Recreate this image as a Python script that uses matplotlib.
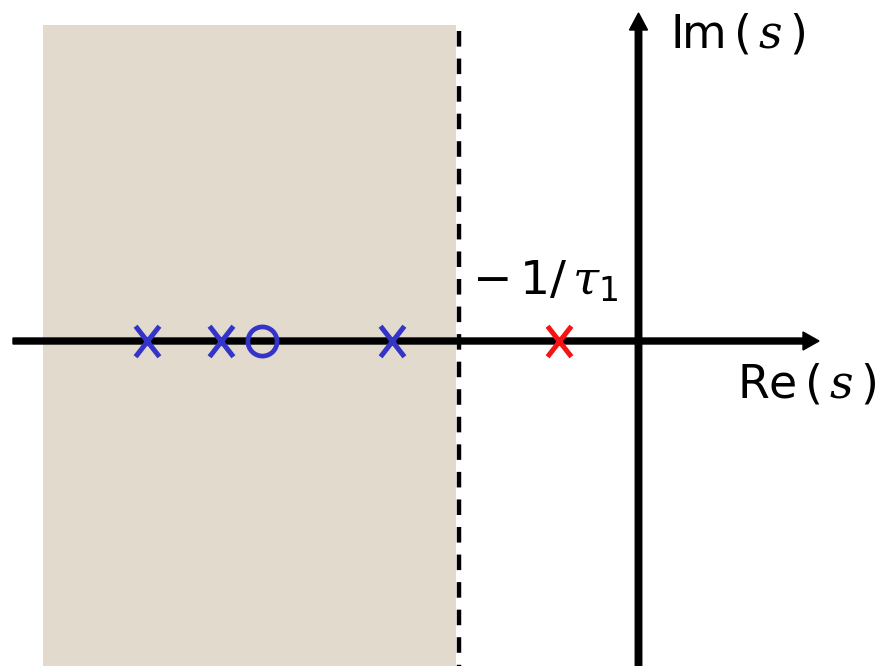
import numpy as np
import matplotlib.pyplot as plt
from matplotlib.path import Path
from matplotlib.patches import Rectangle

# ==========================
# Data (s-plane, real parts)
# ==========================

blue_poles = [-4.915, -4.175, -2.465]
zeros = [-3.765]
red_poles = [-0.795]
boundary = -1.80          # -1/tau_1 line
shade_left = -5.955

label_im = r"Im$\,(\,s\,)$"
label_re = r"Re$\,(\,s\,)$"
label_tau = r"$-\,1/\,\tau_1$"

# ==========================
# Style
# ==========================

plt.rcParams["font.family"] = ["DejaVu Sans"]
plt.rcParams["mathtext.fontset"] = "custom"
plt.rcParams["mathtext.rm"] = "DejaVu Sans"
plt.rcParams["mathtext.it"] = "DejaVu Serif:italic"

blue = "#3434C8"
red = "#F41414"
sand = "#E2DACD"

# tall cross marker
cross = Path(
    [(-0.39, -0.5), (0.39, 0.5), (-0.39, 0.5), (0.39, -0.5)],
    [Path.MOVETO, Path.LINETO, Path.MOVETO, Path.LINETO]
)

fig = plt.figure(figsize=(8.79, 6.66), dpi=100)
ax = fig.add_axes([0, 0, 1, 1])
ax.set_xlim(-6.385, 2.405)
ax.set_ylim(-3.25, 3.41)
ax.axis("off")

# stable region
ax.add_patch(Rectangle(
    (shade_left, -3.4), boundary - 0.025 - shade_left, 3.16 + 3.4,
    facecolor=sand, edgecolor="none", zorder=0
))

# dashed boundary
ax.plot([boundary, boundary], [3.10, -3.4],
        color="black", lw=3.2, ls=(0, (3.5, 2.7)), zorder=1)

# axes with arrows
ax.arrow(-6.255, 0, 8.06, 0, width=0.06, head_width=0.18,
         head_length=0.16, length_includes_head=True,
         color="black", zorder=2)
ax.arrow(0, -3.4, 0, 6.68, width=0.065, head_width=0.18,
         head_length=0.17, length_includes_head=True,
         color="black", zorder=2)

# poles and zeros
ax.plot(blue_poles, np.zeros(len(blue_poles)), ls="none",
        marker=cross, ms=22, mew=3.6, color=blue, zorder=3)
ax.plot(zeros, np.zeros(len(zeros)), ls="none",
        marker="o", ms=21, mew=3.4, mfc="none", color=blue, zorder=3)
ax.plot(red_poles, np.zeros(len(red_poles)), ls="none",
        marker=cross, ms=22, mew=3.6, color=red, zorder=3)

# labels
ax.text(0.315, 2.94, label_im, fontsize=33, va="baseline", ha="left")
ax.text(0.985, -0.57, label_re, fontsize=33, va="baseline", ha="left")
ax.text(-1.665, 0.46, label_tau, fontsize=34, va="baseline", ha="left")

fig.savefig("out.png", dpi=100)
